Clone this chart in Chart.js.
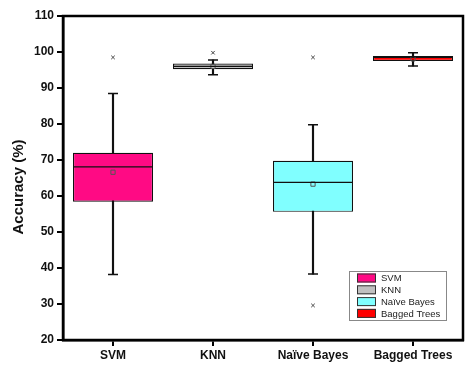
<!DOCTYPE html>
<html>
<head>
<meta charset="utf-8">
<script src="https://cdn.jsdelivr.net/npm/chart.js@4/dist/chart.umd.min.js"></script>
<style>
    html, body { margin: 0; padding: 0; background: #fff; }
    #wrap { width: 474px; height: 369px; }
</style>
</head>
<body>
<div id="wrap"><canvas id="box"></canvas></div>
<script>
const categories = ['SVM', 'KNN', 'Naïve Bayes', 'Bagged Trees'];
const q1 = [58.4, 95.2, 55.6, 97.5];
const q3 = [72.0, 96.8, 69.8, 98.7];
const median = [68.1, 96.0, 63.8, 98.7];
const mean = [66.6, 96.0, 63.3, 98.1];
const whiskerLow = [38.2, 93.7, 38.3, 96.1];
const whiskerHigh = [88.5, 97.8, 79.8, 99.8];
const outlierHigh = [98.5, 99.8, 98.5, null];
const outlierLow = [null, null, 29.6, null];
const yTicks = [20, 30, 40, 50, 60, 70, 80, 90, 100, 110];
const yTitle = 'Accuracy (%)';

const colors = {
    svm: '#FF0A84',
    knn: '#C0C0C0',
    nb: '#80FFFF',
    bt: '#FF0000'
};
const boxColors = [colors.svm, colors.knn, colors.nb, colors.bt];
const FONT = "'Liberation Sans', Arial, sans-serif";

// frame round the plot area, y title and legend box inside the plot
const framePlugin = {
    id: 'frame',
    afterDraw(chart) {
        const {ctx, chartArea: a} = chart;
        ctx.save();
        ctx.strokeStyle = '#000';
        ctx.lineWidth = 2.5;
        ctx.strokeRect(a.left, a.top, a.right - a.left, a.bottom - a.top);

        // y axis title, sits a bit below the middle of the axis
        ctx.save();
        ctx.translate(19, (a.top + a.bottom) / 2 + 9);
        ctx.rotate(-Math.PI / 2);
        ctx.font = 'bold 15px ' + FONT;
        ctx.fillStyle = '#111';
        ctx.textAlign = 'center';
        ctx.textBaseline = 'middle';
        ctx.fillText(yTitle, 0, 0);
        ctx.restore();

        // legend
        const lx = a.right - 114, ly = a.bottom - 69, lw = 97, lh = 49;
        ctx.fillStyle = '#fff';
        ctx.fillRect(lx, ly, lw, lh);
        ctx.strokeStyle = '#888';
        ctx.lineWidth = 1;
        ctx.strokeRect(lx + 0.5, ly + 0.5, lw, lh);
        ctx.font = '9.5px ' + FONT;
        ctx.textBaseline = 'middle';
        categories.forEach((c, i) => {
            const cy = ly + 7 + i * 11.8;
            ctx.fillStyle = boxColors[i];
            ctx.fillRect(lx + 8, cy - 4.5, 19, 9);
            ctx.strokeStyle = '#333';
            ctx.strokeRect(lx + 8.5, cy - 4, 18, 8);
            ctx.fillStyle = '#222';
            ctx.fillText(c, lx + 32, cy + 0.5);
        });
        ctx.restore();
    }
};

const pairs = (a, b) => a.map((v, i) => [v, b[i]]);

const pointSet = (label, data, style, radius, color, width) => ({
    label,
    type: 'line',
    data,
    showLine: false,
    pointStyle: style,
    pointRadius: radius,
    pointBackgroundColor: 'rgba(0,0,0,0)',
    pointBorderColor: color,
    pointBorderWidth: width,
    order: 0
});

new Chart(document.getElementById('box'), {
    type: 'bar',
    data: {
        labels: categories,
        datasets: [
            {
                // boxes (q1..q3)
                label: 'box',
                data: pairs(q1, q3),
                backgroundColor: boxColors,
                borderColor: '#111',
                borderWidth: 1.2,
                borderSkipped: false,
                barPercentage: 0.8,
                categoryPercentage: 1,
                grouped: false,
                order: 2
            },
            {
                // whisker stems
                label: 'stem',
                data: pairs(whiskerLow, whiskerHigh),
                backgroundColor: '#111',
                borderWidth: 0,
                barThickness: 1.5,
                grouped: false,
                order: 3
            },
            pointSet('median', median, 'line', 40, '#111', 1.2),
            pointSet('capLow', whiskerLow, 'line', 5, '#111', 1.5),
            pointSet('capHigh', whiskerHigh, 'line', 5, '#111', 1.5),
            pointSet('mean', mean, 'rect', 3, '#555', 1),
            pointSet('outHigh', outlierHigh, 'crossRot', 2.5, '#444', 1),
            pointSet('outLow', outlierLow, 'crossRot', 2.5, '#444', 1)
        ]
    },
    options: {
        responsive: true,
        maintainAspectRatio: false,
        animation: false,
        layout: { autoPadding: false, padding: { top: 16, right: 11, left: 0, bottom: 0 } },
        plugins: {
            legend: { display: false },
            tooltip: { enabled: false }
        },
        scales: {
            x: {
                afterFit: s => { s.height = 29; },
                grid: { drawOnChartArea: false, drawTicks: true, tickLength: 6, color: '#000', lineWidth: 2, offset: false },
                border: { color: '#000', width: 2.5 },
                ticks: { color: '#111', padding: 2, font: { family: FONT, size: 12, weight: 'bold' } }
            },
            y: {
                min: 20,
                max: 110,
                afterFit: s => { s.width = 63; },
                afterBuildTicks: s => { s.ticks = yTicks.map(v => ({ value: v })); },
                grid: { drawOnChartArea: false, drawTicks: true, tickLength: 6, color: '#000', lineWidth: 2 },
                border: { color: '#000', width: 2.5 },
                ticks: { color: '#111', padding: 3, font: { family: FONT, size: 12, weight: 'bold' } }
            }
        }
    },
    plugins: [framePlugin]
});
</script>
</body>
</html>
